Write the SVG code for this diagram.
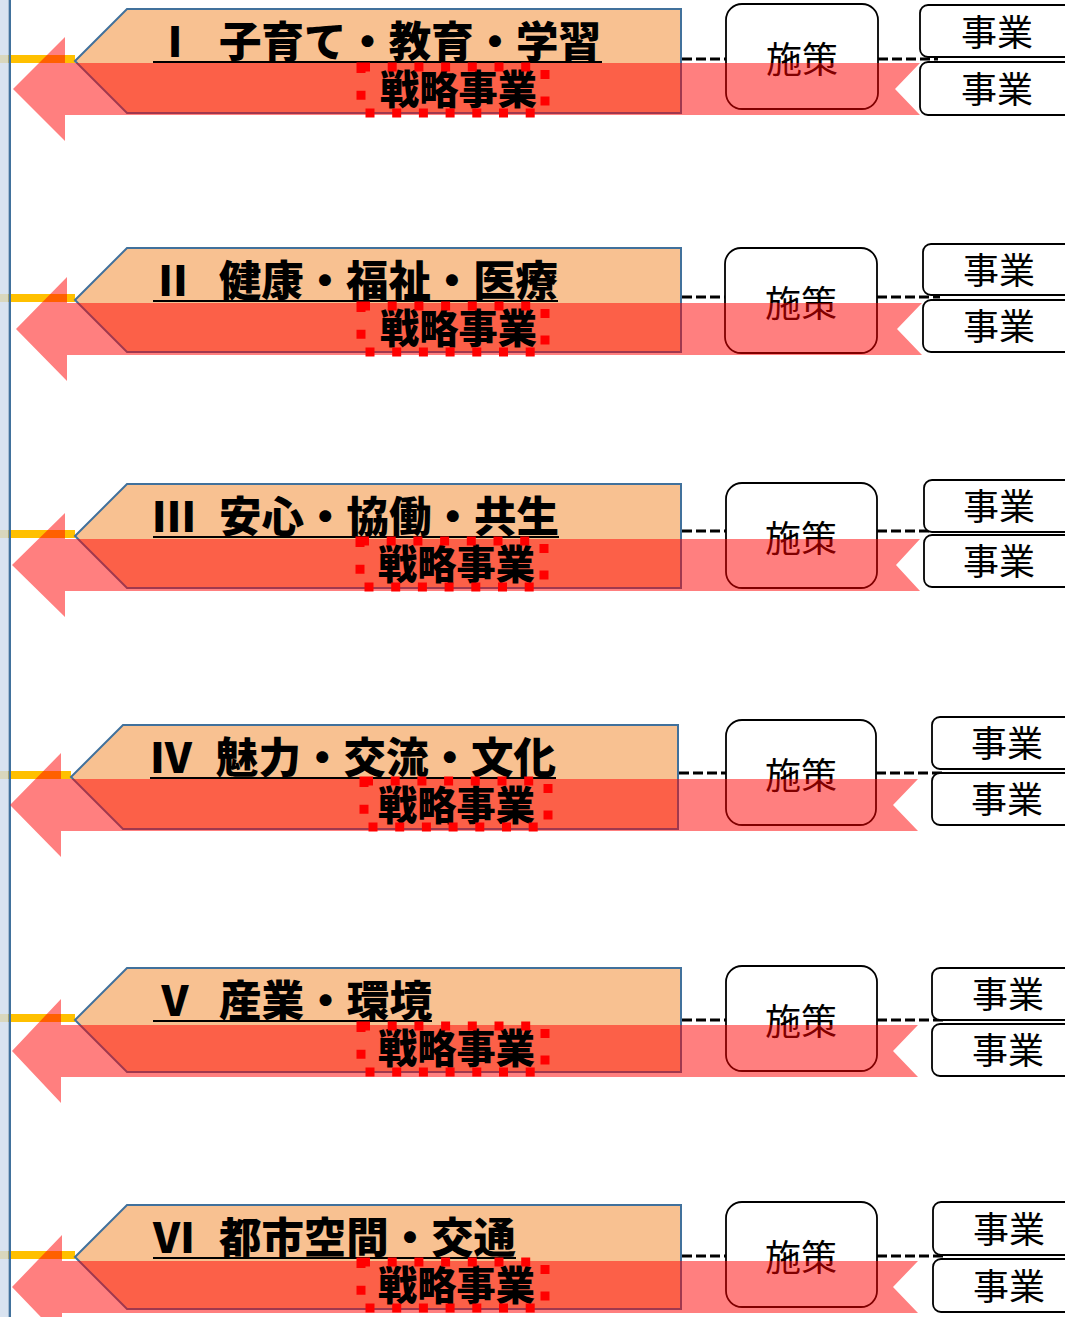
<svg xmlns="http://www.w3.org/2000/svg" width="1065" height="1317" viewBox="0 0 1065 1317">
<style>
.pent{fill:#F8C191;stroke:#41719C;stroke-width:2;stroke-linejoin:miter}
.ttl{font-family:"Noto Sans CJK JP","Noto Sans",sans-serif;font-weight:900;font-size:42px;fill:#000}
.num{font-family:"Noto Sans CJK JP","Noto Sans",sans-serif;font-weight:900;font-size:42px;fill:#000;text-anchor:middle}
.ul{stroke:#000;stroke-width:2}
.arw{fill:#FF0000;fill-opacity:0.5;stroke:none}
.yl{stroke:#FFC000;stroke-width:8}
.meas{fill:#fff;stroke:#000;stroke-width:1.8}
.mt{font-family:"Noto Sans CJK JP","Noto Sans",sans-serif;font-size:36px;fill:#000;text-anchor:middle}
.proj{fill:#fff;stroke:#000;stroke-width:1.8}
.pt{font-family:"Noto Sans CJK JP","Noto Sans",sans-serif;font-size:36px;fill:#000;text-anchor:middle}
.st{font-family:"Noto Sans CJK JP","Noto Sans",sans-serif;font-weight:900;font-size:40px;fill:#000}
.dot{fill:none;stroke:#FF0000;stroke-width:9;stroke-dasharray:9 17.7}
.dash{stroke:#000;stroke-width:3;stroke-dasharray:10 4;fill:none}
</style>
<rect width="1065" height="1317" fill="#fff"/>
<g id="axis-lines">
<line class="yl" x1="0" y1="59" x2="75" y2="59"/>
<line class="yl" x1="0" y1="298" x2="75" y2="298"/>
<line class="yl" x1="0" y1="534" x2="75" y2="534"/>
<line class="yl" x1="0" y1="775" x2="71" y2="775"/>
<line class="yl" x1="0" y1="1018" x2="75" y2="1018"/>
<line class="yl" x1="0" y1="1255" x2="75" y2="1255"/>
<rect x="0" y="0" width="8.5" height="1317" fill="#CFDCEC" opacity="0.8"/>
<line x1="9.8" y1="0" x2="9.8" y2="1317" stroke="#41719C" stroke-width="2.4"/>
</g>

<!-- Row 1 -->
<g id="goal1">
<polygon class="pent" points="75,61 127,9 681,9 681,113 127,113"/>
<text class="num" x="175" y="57">Ⅰ</text>
<text class="ttl" x="219" y="57" textLength="382" lengthAdjust="spacingAndGlyphs">子育て・教育・学習</text>
<line class="ul" x1="153" y1="62" x2="602" y2="62"/>
</g>
<g id="measure1"><rect class="meas" x="726" y="4" width="152" height="105" rx="16"/><text class="mt" x="802" y="73">施策</text></g>
<!-- Row 2 -->
<g id="goal2">
<polygon class="pent" points="75,300 127,248 681,248 681,352 127,352"/>
<text class="num" x="173" y="296">Ⅱ</text>
<text class="ttl" x="219" y="296" textLength="339" lengthAdjust="spacingAndGlyphs">健康・福祉・医療</text>
<line class="ul" x1="153" y1="301" x2="558" y2="301"/>
</g>
<g id="measure2"><rect class="meas" x="725" y="248" width="152" height="105" rx="16"/><text class="mt" x="801" y="317">施策</text></g>
<!-- Row 3 -->
<g id="goal3">
<polygon class="pent" points="75,536 127,484 681,484 681,588 127,588"/>
<text class="num" x="174" y="532">Ⅲ</text>
<text class="ttl" x="219" y="532" textLength="340" lengthAdjust="spacingAndGlyphs">安心・協働・共生</text>
<line class="ul" x1="153" y1="537" x2="559" y2="537"/>
</g>
<g id="measure3"><rect class="meas" x="726" y="483" width="151" height="105" rx="16"/><text class="mt" x="801" y="552">施策</text></g>
<!-- Row 4 -->
<g id="goal4">
<polygon class="pent" points="71,777 123,725 678,725 678,829 123,829"/>
<text class="num" x="171" y="773">Ⅳ</text>
<text class="ttl" x="216" y="773" textLength="340" lengthAdjust="spacingAndGlyphs">魅力・交流・文化</text>
<line class="ul" x1="150" y1="778" x2="556" y2="778"/>
</g>
<g id="measure4"><rect class="meas" x="726" y="720" width="150" height="105" rx="16"/><text class="mt" x="801" y="789">施策</text></g>
<!-- Row 5 -->
<g id="goal5">
<polygon class="pent" points="75,1020 127,968 681,968 681,1072 127,1072"/>
<text class="num" x="175" y="1016">Ⅴ</text>
<text class="ttl" x="219" y="1016" textLength="213" lengthAdjust="spacingAndGlyphs">産業・環境</text>
<line class="ul" x1="153" y1="1021" x2="432" y2="1021"/>
</g>
<g id="measure5"><rect class="meas" x="726" y="966" width="151" height="105" rx="16"/><text class="mt" x="801" y="1035">施策</text></g>
<!-- Row 6 -->
<g id="goal6">
<polygon class="pent" points="75,1257 127,1205 681,1205 681,1309 127,1309"/>
<text class="num" x="174" y="1253">Ⅵ</text>
<text class="ttl" x="219" y="1253" textLength="297" lengthAdjust="spacingAndGlyphs">都市空間・交通</text>
<line class="ul" x1="153" y1="1258" x2="516" y2="1258"/>
</g>
<g id="measure6"><rect class="meas" x="726" y="1202" width="151" height="105" rx="16"/><text class="mt" x="801" y="1271">施策</text></g>

<g id="connectors">
<line class="dash" x1="682" y1="59" x2="726" y2="59"/><line class="dash" x1="878" y1="59" x2="938" y2="59"/>
<line class="dash" x1="682" y1="297" x2="725" y2="297"/><line class="dash" x1="877" y1="297" x2="940" y2="297"/>
<line class="dash" x1="682" y1="531" x2="726" y2="531"/><line class="dash" x1="877" y1="531" x2="940" y2="531"/>
<line class="dash" x1="679" y1="773" x2="726" y2="773"/><line class="dash" x1="876" y1="773" x2="945" y2="773"/>
<line class="dash" x1="682" y1="1020" x2="726" y2="1020"/><line class="dash" x1="877" y1="1020" x2="945" y2="1020"/>
<line class="dash" x1="682" y1="1256" x2="726" y2="1256"/><line class="dash" x1="877" y1="1256" x2="945" y2="1256"/>
</g>

<g id="arrows">
<path class="arw" d="M13,89 L65,37 L65,63 L920,63 L895,89 L920,115 L65,115 L65,141 Z"/>
<path class="arw" d="M16,329 L67,277 L67,303 L922,303 L897,329 L922,355 L67,355 L67,381 Z"/>
<path class="arw" d="M12,565 L65,513 L65,539 L920,539 L896,565 L920,591 L65,591 L65,617 Z"/>
<path class="arw" d="M10,805 L61,753 L61,779 L918,779 L893,805 L918,831 L61,831 L61,857 Z"/>
<path class="arw" d="M12,1051 L61,999 L61,1025 L918,1025 L893,1051 L918,1077 L61,1077 L61,1103 Z"/>
<path class="arw" d="M12,1287 L62,1235 L62,1261 L918,1261 L893,1287 L918,1313 L62,1313 L62,1339 Z"/>
</g>

<g id="strategic1"><text class="st" x="380" y="104" textLength="157" lengthAdjust="spacingAndGlyphs">戦略事業</text><rect class="dot" x="361" y="67" width="184" height="46"/></g>
<g id="strategic2"><text class="st" x="380" y="343" textLength="157" lengthAdjust="spacingAndGlyphs">戦略事業</text><rect class="dot" x="361" y="306" width="184" height="46"/></g>
<g id="strategic3"><text class="st" x="378" y="579" textLength="157" lengthAdjust="spacingAndGlyphs">戦略事業</text><rect class="dot" x="360" y="541" width="184" height="46"/></g>
<g id="strategic4"><text class="st" x="378" y="820" textLength="157" lengthAdjust="spacingAndGlyphs">戦略事業</text><rect class="dot" x="364" y="781" width="184" height="46"/></g>
<g id="strategic5"><text class="st" x="378" y="1063" textLength="157" lengthAdjust="spacingAndGlyphs">戦略事業</text><rect class="dot" x="361" y="1026" width="184" height="46"/></g>
<g id="strategic6"><text class="st" x="378" y="1300" textLength="157" lengthAdjust="spacingAndGlyphs">戦略事業</text><rect class="dot" x="361" y="1262" width="184" height="46"/></g>

<g id="project1a"><rect class="proj" x="920" y="5" width="160" height="52" rx="8"/><text class="pt" x="997" y="46">事業</text></g>
<g id="project1b"><rect class="proj" x="920" y="62" width="160" height="53" rx="8"/><text class="pt" x="997" y="103">事業</text></g>
<g id="project2a"><rect class="proj" x="923" y="244" width="160" height="51" rx="8"/><text class="pt" x="999" y="284">事業</text></g>
<g id="project2b"><rect class="proj" x="923" y="300" width="160" height="52" rx="8"/><text class="pt" x="999" y="340">事業</text></g>
<g id="project3a"><rect class="proj" x="924" y="480" width="160" height="52" rx="8"/><text class="pt" x="999" y="520">事業</text></g>
<g id="project3b"><rect class="proj" x="924" y="535" width="160" height="52" rx="8"/><text class="pt" x="999" y="575">事業</text></g>
<g id="project4a"><rect class="proj" x="932" y="717" width="160" height="52" rx="8"/><text class="pt" x="1007" y="757">事業</text></g>
<g id="project4b"><rect class="proj" x="932" y="773" width="160" height="52" rx="8"/><text class="pt" x="1007" y="813">事業</text></g>
<g id="project5a"><rect class="proj" x="932" y="968" width="160" height="52" rx="8"/><text class="pt" x="1008" y="1008">事業</text></g>
<g id="project5b"><rect class="proj" x="932" y="1024" width="160" height="52" rx="8"/><text class="pt" x="1008" y="1064">事業</text></g>
<g id="project6a"><rect class="proj" x="933" y="1202" width="160" height="53" rx="8"/><text class="pt" x="1009" y="1243">事業</text></g>
<g id="project6b"><rect class="proj" x="933" y="1259" width="160" height="53" rx="8"/><text class="pt" x="1009" y="1300">事業</text></g>
</svg>
